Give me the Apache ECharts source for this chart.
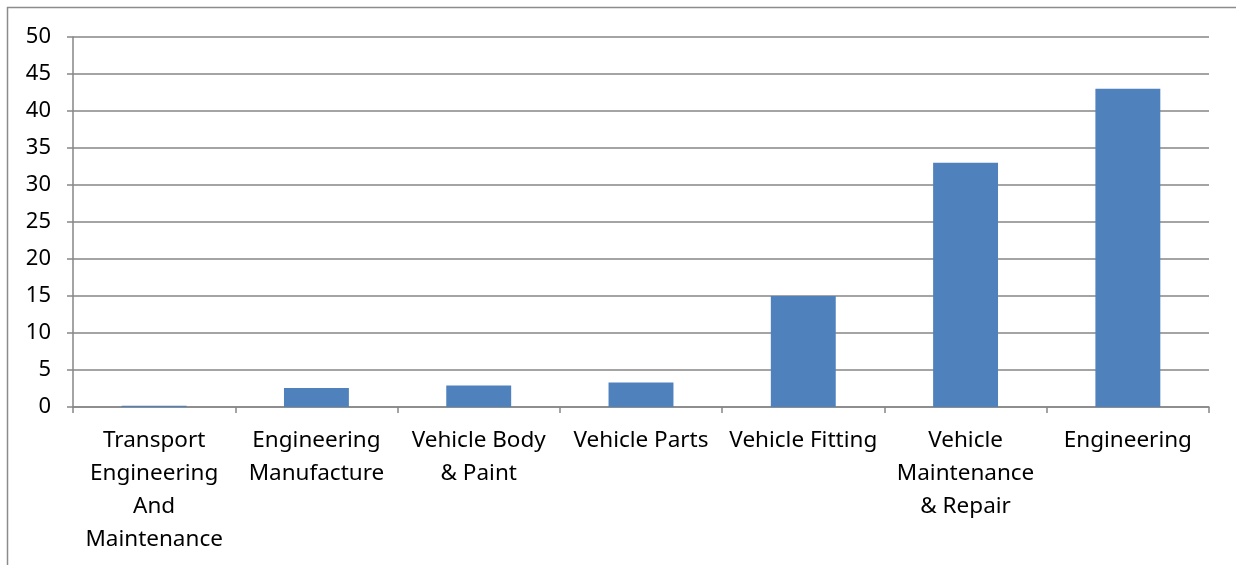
<!DOCTYPE html>
<html><head><meta charset="utf-8">
<script src="https://cdn.jsdelivr.net/npm/echarts@6/dist/echarts.min.js"></script>
<style>html,body{margin:0;padding:0;background:#fff}#c{width:1236px;height:565px}</style>
</head><body><div id="c"></div>
<script>
const categories = ["Transport\nEngineering\nAnd\nMaintenance","Engineering\nManufacture","Vehicle Body\n& Paint","Vehicle Parts","Vehicle Fitting","Vehicle\nMaintenance\n& Repair","Engineering"];
const values = [0.18, 2.57, 2.89, 3.3, 15, 33, 43];
const yTicks = [0, 50, 5];
const chart = echarts.init(document.getElementById('c'));
const axisColor = '#868686';
chart.setOption({
  animation: false,
  graphic: [{type:'rect', shape:{x:7.5,y:7.5,width:1300,height:700}, style:{fill:'none', stroke:'#8c8c8c', lineWidth:1.5}, z:-1}],
  grid: {left:73, right:27, top:37, bottom:158},
  xAxis: {
    type:'category', data:categories,
    axisLine:{lineStyle:{color:axisColor, width:1.5}},
    axisTick:{show:true, length:6, lineStyle:{color:axisColor, width:1.5}},
    axisLabel:{color:'#000', fontFamily:'Noto Sans', fontSize:22.5, lineHeight:33, margin:17, interval:0}
  },
  yAxis: {
    type:'value', min:yTicks[0], max:yTicks[1], interval:yTicks[2],
    axisLine:{show:true, lineStyle:{color:axisColor, width:1.5}},
    axisTick:{show:true, length:6, lineStyle:{color:axisColor, width:1.5}},
    splitLine:{lineStyle:{color:axisColor, width:1.5}},
    axisLabel:{color:'#000', fontFamily:'Noto Sans', fontSize:22, margin:22}
  },
  series: [{type:'bar', data:values, barWidth:'40%', itemStyle:{color:'#4f81bd'}}]
});
</script></body></html>
